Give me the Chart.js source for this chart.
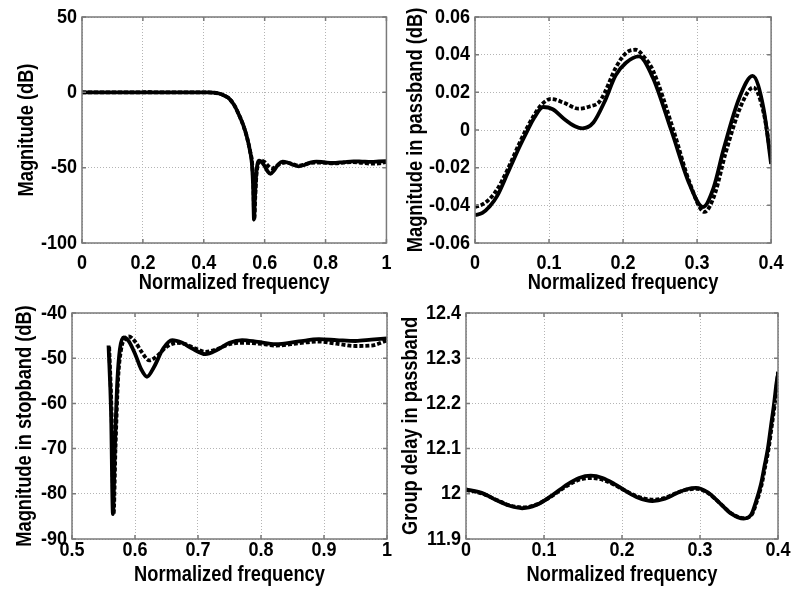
<!DOCTYPE html>
<html>
<head>
<meta charset="utf-8">
<script src="https://cdn.jsdelivr.net/npm/chart.js@4.4.1/dist/chart.umd.min.js"></script>
<style>
  html, body { margin: 0; padding: 0; background: #ffffff; }
  body { width: 793px; height: 593px; position: relative; overflow: hidden; }
  canvas { position: absolute; }
</style>
</head>
<body>
<canvas id="c1" width="400" height="296" style="left:0px;top:0px"></canvas>
<canvas id="c2" width="400" height="296" style="left:393px;top:0px"></canvas>
<canvas id="c3" width="400" height="297" style="left:0px;top:296px"></canvas>
<canvas id="c4" width="400" height="297" style="left:393px;top:296px"></canvas>
<script>
// ---------- Data ----------
// Passband magnitude (dB), solid series
const passSolidX = [0, 0.01, 0.02, 0.03, 0.044, 0.06, 0.07, 0.08, 0.092, 0.105, 0.12, 0.135, 0.145, 0.16, 0.175, 0.19, 0.204, 0.2215, 0.24, 0.265, 0.29, 0.308, 0.322, 0.336, 0.357, 0.375, 0.39, 0.4];
const passSolidY = [-0.0452, -0.0440, -0.0405, -0.0350, -0.0230, -0.0090, -0.0010, 0.0065, 0.0122, 0.0110, 0.0060, 0.0020, 0.0009, 0.0040, 0.0150, 0.0290, 0.0357, 0.0391, 0.0280, 0.0000, -0.0290, -0.0409, -0.0310, -0.0100, 0.0170, 0.0287, 0.0110, -0.0180];
// Passband magnitude (dB), dashed series
const passDashX = [0, 0.01, 0.02, 0.03, 0.044, 0.06, 0.07, 0.08, 0.09, 0.103, 0.12, 0.14, 0.155, 0.1675, 0.1754, 0.19, 0.204, 0.217, 0.23, 0.24, 0.268, 0.29, 0.31, 0.324, 0.338, 0.36, 0.376, 0.39, 0.4];
const passDashY = [-0.0409, -0.0395, -0.0365, -0.0315, -0.0210, -0.0070, 0.0010, 0.0080, 0.0135, 0.0165, 0.0145, 0.0113, 0.0125, 0.0148, 0.0200, 0.0330, 0.0409, 0.0426, 0.0380, 0.0320, 0.0000, -0.0280, -0.0435, -0.0340, -0.0130, 0.0135, 0.0226, 0.0090, -0.0148];

// Transition band (dB), shared by both series
const transX = [0.41, 0.43, 0.45, 0.47, 0.482, 0.50, 0.515, 0.53, 0.542, 0.552];
const transY = [-0.05, -0.2, -0.8, -2.4, -3.9, -8.5, -14.7, -22, -29.9, -39];

// Stopband magnitude (dB), solid series
const stopSolidX = [0.558, 0.562, 0.565, 0.568, 0.572, 0.576, 0.582, 0.59, 0.60, 0.61, 0.619, 0.63, 0.645, 0.659, 0.675, 0.69, 0.712, 0.73, 0.75, 0.77, 0.795, 0.823, 0.86, 0.892, 0.92, 0.95, 0.975, 1.0];
const stopSolidY = [-47.2, -62, -84.5, -70, -55, -48, -45.4, -46.2, -49, -52.5, -54.1, -52, -47.8, -46.0, -46.6, -47.8, -49.1, -48.2, -46.6, -46.0, -46.4, -46.9, -46.3, -45.8, -46.0, -46.2, -45.9, -45.6];
// Stopband magnitude (dB), dashed series
const stopDashX = [0.559, 0.563, 0.566, 0.569, 0.573, 0.578, 0.584, 0.59, 0.60, 0.61, 0.623, 0.635, 0.65, 0.667, 0.68, 0.695, 0.712, 0.73, 0.75, 0.772, 0.80, 0.823, 0.86, 0.89, 0.92, 0.95, 0.975, 1.0];
const stopDashY = [-47.5, -63, -84.5, -70, -55, -48, -45.8, -45.2, -46.3, -48.5, -50.5, -49.5, -47.5, -46.6, -46.9, -47.8, -48.6, -48.0, -46.9, -46.6, -46.8, -47.2, -46.7, -46.3, -46.8, -47.3, -47.2, -46.1];

// Group delay in passband, solid series
const delaySolidX = [0, 0.02, 0.04, 0.055, 0.072, 0.09, 0.11, 0.13, 0.145, 0.16, 0.175, 0.19, 0.205, 0.22, 0.239, 0.255, 0.27, 0.283, 0.295, 0.31, 0.325, 0.34, 0.356, 0.366, 0.372, 0.378, 0.383, 0.387, 0.391, 0.395, 0.398, 0.4];
const delaySolidY = [12.0097, 12.002, 11.985, 11.974, 11.968, 11.975, 11.996, 12.021, 12.035, 12.040, 12.035, 12.022, 12.006, 11.992, 11.984, 11.989, 12.001, 12.010, 12.013, 12.003, 11.980, 11.956, 11.945, 11.955, 11.984, 12.020, 12.064, 12.100, 12.150, 12.200, 12.244, 12.265];
// Group delay in passband, dashed series
const delayDashX = [0, 0.02, 0.04, 0.055, 0.073, 0.09, 0.11, 0.13, 0.145, 0.162, 0.175, 0.19, 0.205, 0.22, 0.24, 0.255, 0.27, 0.283, 0.296, 0.31, 0.325, 0.34, 0.357, 0.367, 0.373, 0.379, 0.384, 0.388, 0.392, 0.396, 0.399, 0.4];
const delayDashY = [12.008, 12.001, 11.986, 11.975, 11.970, 11.976, 11.995, 12.018, 12.031, 12.035, 12.031, 12.020, 12.006, 11.994, 11.987, 11.991, 12.002, 12.009, 12.011, 12.002, 11.980, 11.957, 11.946, 11.956, 11.984, 12.020, 12.064, 12.100, 12.150, 12.200, 12.250, 12.270];

// Full-band magnitude: passband + transition + stopband readings
const fullSolidX = passSolidX.concat(transX, stopSolidX);
const fullSolidY = passSolidY.concat(transY, stopSolidY);
const fullDashX = passDashX.concat(transX, stopDashX);
const fullDashY = passDashY.concat(transY, stopDashY);

const xTitle = 'Normalized frequency';

// ---------- Rendering ----------
const FONT = "'Liberation Sans', Arial, sans-serif";
function pts(xs, ys) { return xs.map((x, i) => ({ x: x, y: ys[i] })); }
function fmt(v) { return String(+Number(v).toFixed(4)); }

// Narrow-glyph text: horizontally condense text around its anchor (the reference uses a narrow bold face)
function narrowText(canvas) {
  const ctx = canvas.getContext('2d');
  const orig = ctx.fillText.bind(ctx);
  ctx.fillText = function (t, x, y, mw) {
    const size = parseFloat((/(\d+(\.\d+)?)px/.exec(this.font) || [0, 12])[1]);
    const k = size >= 22 ? 0.83 : 0.9;
    this.save();
    this.translate(x, y);
    this.scale(k, 1);
    if (mw === undefined || mw === null) orig(t, 0, 0); else orig(t, 0, 0, mw / k);
    this.restore();
  };
}

const framePlugin = {
  id: 'frame',
  afterDraw(chart) {
    const ctx = chart.ctx, a = chart.chartArea, sx = chart.scales.x, sy = chart.scales.y;
    ctx.save();
    ctx.strokeStyle = '#7a7a7a';
    ctx.lineWidth = 1.5;
    ctx.beginPath();
    sx.ticks.forEach(t => {
      const p = sx.getPixelForValue(t.value);
      ctx.moveTo(p, a.bottom); ctx.lineTo(p, a.bottom - 4);
      ctx.moveTo(p, a.top); ctx.lineTo(p, a.top + 4);
    });
    sy.ticks.forEach(t => {
      const p = sy.getPixelForValue(t.value);
      ctx.moveTo(a.left, p); ctx.lineTo(a.left + 4, p);
      ctx.moveTo(a.right, p); ctx.lineTo(a.right - 4, p);
    });
    ctx.stroke();
    ctx.strokeRect(a.left, a.top, a.right - a.left, a.bottom - a.top);
    ctx.restore();
  }
};

function makeChart(id, cfg) {
  const cv = document.getElementById(id);
  narrowText(cv);
  return new Chart(cv, {
    type: 'line',
    data: {
      datasets: [
        { data: pts(cfg.sx, cfg.sy), borderColor: '#000', borderWidth: 3.8, pointRadius: 0, cubicInterpolationMode: 'monotone', fill: false },
        { data: pts(cfg.dx, cfg.dy), borderColor: '#000', borderWidth: 3.8, borderDash: [4, 2], pointRadius: 0, cubicInterpolationMode: 'monotone', fill: false }
      ]
    },
    options: {
      responsive: false,
      animation: false,
      events: [],
      layout: { padding: { top: cfg.padTop, right: cfg.padRight, left: 0, bottom: 0 } },
      plugins: { legend: { display: false }, tooltip: { enabled: false } },
      scales: {
        x: {
          type: 'linear', min: cfg.xmin, max: cfg.xmax,
          ticks: { stepSize: cfg.xstep, color: '#000', font: { family: FONT, size: 20, weight: 'bold' }, padding: cfg.xTickPad, maxRotation: 0, autoSkip: false, callback: fmt },
          grid: { color: '#b4b4b4', lineWidth: 1, drawTicks: false },
          border: { display: false, dash: [1, 2] },
          title: { display: true, text: xTitle, color: '#000', font: { family: FONT, size: 22, weight: 'bold' }, padding: { top: 0, bottom: cfg.xTitlePad } },
          afterFit(s) { s.height = cfg.xHeight; }
        },
        y: {
          type: 'linear', min: cfg.ymin, max: cfg.ymax,
          ticks: { stepSize: cfg.ystep, color: '#000', font: { family: FONT, size: 20, weight: 'bold' }, padding: 5, autoSkip: false, callback: fmt },
          grid: { color: '#b4b4b4', lineWidth: 1, drawTicks: false },
          border: { display: false, dash: [1, 2] },
          title: { display: true, text: cfg.yTitle, color: '#000', font: { family: FONT, size: 22, weight: 'bold' }, padding: { top: cfg.yTitlePad, bottom: 0 } },
          afterFit(s) { s.width = cfg.yWidth; }
        }
      }
    },
    plugins: [framePlugin]
  });
}

makeChart('c1', { sx: fullSolidX, sy: fullSolidY, dx: fullDashX, dy: fullDashY,
  xmin: 0, xmax: 1, xstep: 0.2, ymin: -100, ymax: 50, ystep: 50,
  yTitle: 'Magnitude (dB)', padTop: 13, padRight: 11, yWidth: 82, xHeight: 53, yTitlePad: 13.5, xTitlePad: 0, xTickPad: 8 });

makeChart('c2', { sx: passSolidX, sy: passSolidY, dx: passDashX, dy: passDashY,
  xmin: 0, xmax: 0.4, xstep: 0.1, ymin: -0.06, ymax: 0.06, ystep: 0.02,
  yTitle: 'Magnitude in passband (dB)', padTop: 13, padRight: 14, yWidth: 82, xHeight: 53, yTitlePad: 10, xTitlePad: 0, xTickPad: 8 });

makeChart('c3', { sx: stopSolidX, sy: stopSolidY, dx: stopDashX, dy: stopDashY,
  xmin: 0.5, xmax: 1, xstep: 0.1, ymin: -90, ymax: -40, ystep: 10,
  yTitle: 'Magnitude in stopband (dB)', padTop: 12, padRight: 13, yWidth: 72, xHeight: 54, yTitlePad: 11.8, xTitlePad: 5, xTickPad: -1 });

makeChart('c4', { sx: delaySolidX, sy: delaySolidY, dx: delayDashX, dy: delayDashY,
  xmin: 0, xmax: 0.4, xstep: 0.1, ymin: 11.9, ymax: 12.4, ystep: 0.1,
  yTitle: 'Group delay in passband', padTop: 12, padRight: 15, yWidth: 73, xHeight: 54, yTitlePad: 5, xTitlePad: 5, xTickPad: -1 });
</script>
</body>
</html>
